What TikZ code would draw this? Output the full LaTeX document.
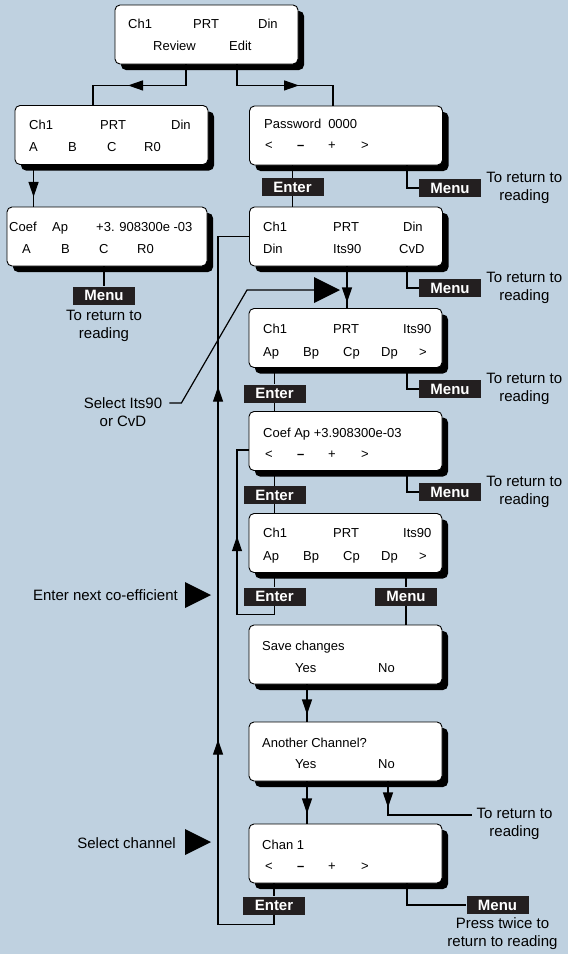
\documentclass[tikz,border=0pt]{standalone}
\usepackage{fontspec}
\setmainfont{Liberation Sans}
\usetikzlibrary{positioning,calc,shadows,arrows.meta,decorations.markings}

\definecolor{panelbg}{RGB}{191,209,224}
\definecolor{tagblack}{RGB}{35,31,32}

\tikzset{
  lcd/.style={draw=black, line width=0.9pt, fill=white, rounded corners=5pt,
    minimum width=193pt, minimum height=59pt, inner sep=0pt,
    general shadow={fill=black, shadow xshift=6pt, shadow yshift=-6pt}},
  lcdtxt/.style={anchor=base west, inner sep=0pt, font=\fontsize{13}{15}\selectfont},
  tag/.style={fill=tagblack, text=white, font=\fontsize{15}{15}\bfseries\selectfont,
    minimum width=62pt, minimum height=18pt, inner sep=0pt},
  note/.style={align=center, inner sep=0pt, font=\fontsize{15}{18}\selectfont},
  line/.style={line width=1.2pt},
  arrowat/.style={postaction={decorate, decoration={markings,
    mark=at position #1 with {\arrow{Triangle[length=15pt,width=10pt]}}}}}
}

\begin{document}
\begin{tikzpicture}[x=1pt, y=-1pt]
    % background
    \fill[panelbg] (0,0) rectangle (568,954);
    \useasboundingbox (0,0) rectangle (568,954);

    % Display panels
    \node[lcd, minimum width=183pt] (top) at (206.5,34.5) {};
    \node[lcd] (rev) at (111.5,135) {};
    \node[lcd, minimum width=200pt] (coefl) at (107,236.5) {};
    \node[lcd] (pass) at (346,135.5) {};
    \node[lcd] (std) at (346,236.5) {};
    \node[lcd] (its) at (345.5,338) {};
    \node[lcd] (coef) at (345.5,441) {};
    \node[lcd] (itsb) at (345.5,543) {};
    \node[lcd] (save) at (345.5,654.5) {};
    \node[lcd] (another) at (345.5,751.5) {};
    \node[lcd] (chan) at (345.5,853.5) {};

    % Panel texts
    \foreach \x/\txt [count=\i] in {128/Ch1,193/PRT,258/Din}
        \node[lcdtxt] (top-a\i) at (\x,28) {\txt};
    \foreach \x/\txt [count=\i] in {153/Review,229/Edit}
        \node[lcdtxt] (top-b\i) at (\x,50) {\txt};
    \foreach \x/\txt [count=\i] in {29/Ch1,100/PRT,171/Din}
        \node[lcdtxt] (rev-a\i) at (\x,129) {\txt};
    \foreach \x/\txt [count=\i] in {29/A,68/B,107/C,144/R0}
        \node[lcdtxt] (rev-b\i) at (\x,151) {\txt};
    \foreach \x/\txt [count=\i] in {9/Coef,52/Ap,96/+3. 908300e -03}
        \node[lcdtxt] (coefl-a\i) at (\x,231) {\txt};
    \foreach \x/\txt [count=\i] in {22/A,61/B,99/C,137/R0}
        \node[lcdtxt] (coefl-b\i) at (\x,253) {\txt};
    \node[lcdtxt] (pass-a) at (264,128) {Password\hspace{7pt}0000};
    \foreach \x/\txt [count=\i] in {265/<,297/\textbf{–},328/+,361/>}
        \node[lcdtxt] (pass-b\i) at (\x,149) {\txt};
    \foreach \x/\txt [count=\i] in {263/Ch1,333/PRT,403/Din}
        \node[lcdtxt] (std-a\i) at (\x,231) {\txt};
    \foreach \x/\txt [count=\i] in {263/Din,333/Its90,399/CvD}
        \node[lcdtxt] (std-b\i) at (\x,253) {\txt};
    \foreach \y/\p in {333/its,537/itsb}{
        \foreach \x/\txt [count=\i] in {263/Ch1,333/PRT,403/Its90}
            \node[lcdtxt] (\p-a\i) at (\x,\y) {\txt};
        \foreach \x/\txt [count=\i] in {263/Ap,303/Bp,343/Cp,381/Dp,419/>}
            \node[lcdtxt] (\p-b\i) at (\x,\y+23) {\txt};
    }
    \node[lcdtxt] (coef-a) at (263,437) {Coef Ap +3.908300e-03};
    \foreach \x/\txt [count=\i] in {265/<,297/\textbf{–},328/+,361/>}
        \node[lcdtxt] (coef-b\i) at (\x,458) {\txt};
    \node[lcdtxt] (save-a) at (262,650) {Save changes};
    \node[lcdtxt] (save-b1) at (295,672) {Yes};
    \node[lcdtxt] (save-b2) at (378,672) {No};
    \node[lcdtxt] (another-a) at (262,747) {Another Channel?};
    \node[lcdtxt] (another-b1) at (295,768) {Yes};
    \node[lcdtxt] (another-b2) at (378,768) {No};
    \node[lcdtxt] (chan-a) at (262,849) {Chan 1};
    \foreach \x/\txt [count=\i] in {265/<,297/\textbf{–},328/+,361/>}
        \node[lcdtxt] (chan-b\i) at (\x,870) {\txt};

    % Key tags
    \node[tag] (ent1) at (292.5,187) {Enter};
    \node[tag] (ment1) at (450,188) {Menu};
    \node[tag] (ment2) at (450,288) {Menu};
    \node[tag] (ent2) at (274.5,393.5) {Enter};
    \node[tag] (ment3) at (450,389) {Menu};
    \node[tag] (ent3) at (274.5,495) {Enter};
    \node[tag] (ment4) at (450,492) {Menu};
    \node[tag] (ent4) at (274.5,596.5) {Enter};
    \node[tag] (menu5) at (406,596.5) {Menu};
    \node[tag] (ent5) at (274,905.5) {Enter};
    \node[tag] (menu6) at (497.5,905) {Menu};
    \node[tag] (menul) at (104,295.5) {Menu};

    % Notes
    \node[note, right=5pt of ment1] (ret1) {To return to\\reading};
    \node[note, right=5pt of ment2] (ret2) {To return to\\reading};
    \node[note, right=5pt of ment3] (ret3) {To return to\\reading};
    \node[note, right=5pt of ment4] (ret4) {To return to\\reading};
    \node[note, below=5pt of menul] (retl) {To return to\\reading};
    \node[note] (ret5) at (514.5,824) {To return to\\reading};
    \node[note, below=3pt of menu6, xshift=5pt] (ret6) {Press twice to\\return to reading};
    \node[note] (selits) at (123,412) {Select Its90\\or CvD};
    \node[note, anchor=east] (nextco) at (178,595) {Enter next co-efficient};
    \node[note, anchor=east] (selch) at (176,843) {Select channel};

    % Pointers
    \fill (314,277) -- (340,290) -- (314,303) -- cycle;
    \coordinate (ptr) at (314,290);
    \fill (185,582) -- (211,595) -- (185,608) -- cycle;
    \fill (185,829) -- (211,842) -- (185,855) -- cycle;

    % Review / Edit split
    \draw[line, arrowat=79pt] ([xshift=-20.5pt]top.south) -- ++(0,21) -| ([xshift=-18.5pt]rev.north);
    \draw[line, arrowat=83pt] ([xshift=30.5pt]top.south) -- ++(0,21) -| ([xshift=-13pt]pass.north);

    % Review branch
    \draw[line, arrowat=32pt] ([xshift=19pt]rev.south west) -- ([xshift=27pt]coefl.north west);
    \draw[line] (coefl.south -| menul) -- (menul.north);

    % Edit branch
    \draw[line] (pass.south -| ent1) -- (ent1.north);
    \draw[line] (ent1.south) -- (std.north -| ent1);
    \draw[line] ([xshift=61pt]pass.south) |- (ment1.west);
    \draw[line] ([xshift=61pt]std.south) |- (ment2.west);
    \draw[line, arrowat=36pt] ([xshift=1pt]std.south) coordinate (s1) -- (its.north -| s1);
    \draw[line] (its.south -| ent2) -- (ent2.north);
    \draw[line] (ent2.south) -- (coef.north -| ent2);
    \draw[line] ([xshift=61.5pt]its.south) |- (ment3.west);
    \draw[line] (coef.south -| ent3) -- (ent3.north);
    \draw[line] (ent3.south) -- (itsb.north -| ent3);
    \draw[line] ([xshift=61.5pt]coef.south) |- (ment4.west);
    \draw[line] (itsb.south -| ent4) -- (ent4.north);
    \draw[line] (itsb.south -| menu5) -- (menu5.north);
    \draw[line] (menu5.south) -- (save.north -| menu5);

    % next co-efficient loop
    \draw[line, arrowat=125pt] (ent4.south) -- ++(0,9) -| (237,450) -- ([yshift=-9pt]coef.west);

    % Save and channel
    \draw[line, arrowat=30pt] ([xshift=-38.5pt]save.south) coordinate (s2) -- (another.north -| s2);
    \draw[line, arrowat=32pt] ([xshift=-38.5pt]another.south) coordinate (s3) -- (chan.north -| s3);
    \draw[line, arrowat=26pt] ([xshift=42.5pt]another.south) |- ([xshift=-4pt,yshift=9pt]ret5.west);
    \draw[line] (chan.south -| ent5) -- (ent5.north);
    \draw[line] ([xshift=61.5pt]chan.south) |- (menu6.west);

    % channel loop
    \draw[line, arrowat=251pt, arrowat=604pt] (ent5.south) -- ++(0,10) -| ([xshift=-31pt]std.west) -- (std.west);

    % Its90 / CvD pointer
    \draw[line] ([xshift=7pt,yshift=9pt]selits.east) -- ++(12,0) -- (247,290) -- (ptr);

\end{tikzpicture}
\end{document}
